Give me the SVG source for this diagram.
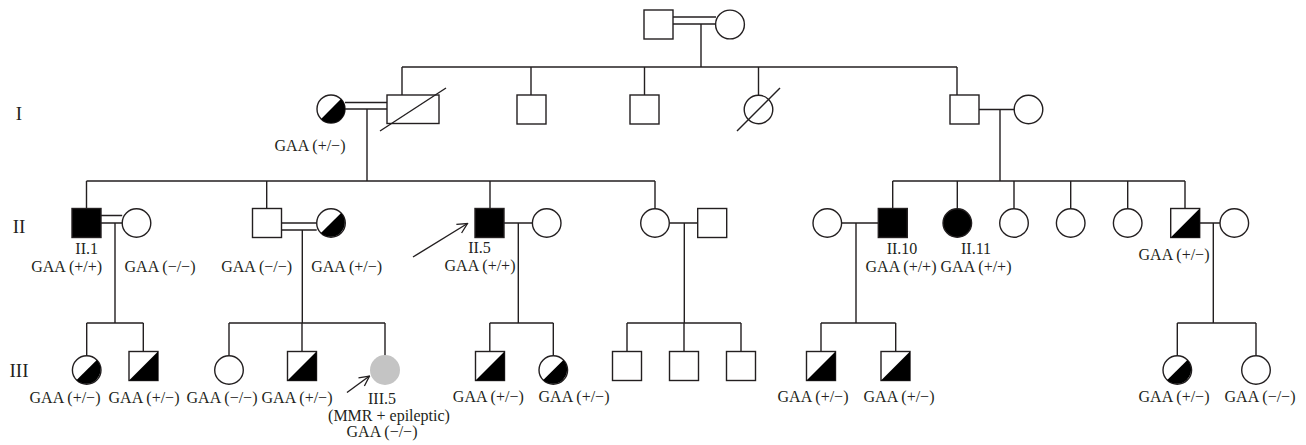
<svg xmlns="http://www.w3.org/2000/svg" width="1306" height="445" viewBox="0 0 1306 445">
<defs>
<style>
.ln{stroke:#231f20;stroke-width:1.4;fill:none}
.sh{stroke:#231f20;stroke-width:1.4;fill:#fff}
.fi{stroke:#231f20;stroke-width:1.4;fill:#000}
.bk{fill:#000;stroke:none}
.gr{fill:#c4c4c4;stroke:none}
.t{font-family:"Liberation Serif","Times New Roman",serif;font-size:16px;fill:#231f20;text-anchor:middle}
.g{font-family:"Liberation Serif","Times New Roman",serif;font-size:19px;fill:#231f20;text-anchor:middle}
</style>
<marker id="ah" viewBox="0 0 12 12" refX="11" refY="6" markerWidth="12" markerHeight="12" markerUnits="userSpaceOnUse" orient="auto">
<path d="M1,1 L11,6 L1,11" fill="none" stroke="#231f20" stroke-width="1.3"/>
</marker>
</defs>
<rect width="1306" height="445" fill="#fff"/>

<g id="generations">
<text class="g" x="19" y="120">I</text>
<text class="g" x="19" y="233">II</text>
<text class="g" x="19" y="377">III</text>
</g>

<g id="connectors">
<path class="ln" d="M673,17 H716 M673,24 H716 M701,24 V67"/>
<path class="ln" d="M402,67 H957"/>
<path class="ln" d="M402,67 V95 M531,67 V95 M644.5,67 V95 M758.5,67 V95.2 M957,67 V95"/>
<path class="ln" d="M345,102.5 H387 M345,109 H387 M367,109 V181"/>
<path class="ln" d="M979,109.5 H1014.2 M1000,109.5 V181"/>
<path class="ln" d="M86.5,181 H655 M86.5,181 V208.5 M266.7,181 V208.5 M490,181 V208.5 M655,181 V208.7"/>
<path class="ln" d="M892.7,181 H1185 M892.7,181 V208.5 M957.3,181 V208.7 M1014,181 V208.7 M1070.7,181 V208.7 M1127.7,181 V208.7 M1185,181 V208.5"/>
<path class="ln" d="M101,215.5 H122.2 M101,223 H122.2 M115,223 V323"/>
<path class="ln" d="M281.5,223 H316.7 M281.5,230 H316.7 M302.3,230 V323"/>
<path class="ln" d="M504,223 H532.4 M518.3,223 V323"/>
<path class="ln" d="M669.3,223 H697.7 M684.3,223 V323"/>
<path class="ln" d="M841.6,223 H878.3 M856,223 V323"/>
<path class="ln" d="M1199.5,223 H1220 M1213.3,223 V323"/>
<path class="ln" d="M86.7,323 H143.3 M86.7,323 V355.7 M143.3,323 V351.5"/>
<path class="ln" d="M229,323 H385 M229,323 V355.7 M302,323 V351.5 M385,323 V355.7"/>
<path class="ln" d="M489.8,323 H553.3 M489.8,323 V351.5 M553.3,323 V355.7"/>
<path class="ln" d="M627,323 H741 M627,323 V351.5 M684,323 V351.5 M741,323 V351.5"/>
<path class="ln" d="M821,323 H895.7 M821,323 V351.5 M895.7,323 V351.5"/>
<path class="ln" d="M1177.3,323 H1256 M1177.3,323 V355.7 M1256,323 V355.7"/>
<path class="ln" d="M413,257 L467.5,223.5" marker-end="url(#ah)"/>
<path class="ln" d="M347,392.5 L369.5,376" marker-end="url(#ah)"/>
</g>

<g id="I-father"><rect class="sh" x="644" y="10" width="29" height="29"/></g>
<g id="I-mother"><circle class="sh" cx="730" cy="24.5" r="14.4"/></g>

<g id="I-1-wife">
<circle class="sh" cx="331" cy="109" r="14"/>
<path class="bk" d="M321.1,118.9 A14,14 0 0 0 340.9,99.1 Z"/>
<text class="t" x="310" y="151">GAA (+/−)</text>
</g>
<g id="I-1">
<rect class="sh" x="387" y="95" width="52" height="28.5"/>
<path class="ln" d="M380,131 L446,88"/>
</g>
<g id="I-2"><rect class="sh" x="517" y="95" width="29" height="29"/></g>
<g id="I-3"><rect class="sh" x="630" y="95" width="29" height="29"/></g>
<g id="I-4">
<circle class="sh" cx="758.5" cy="109.5" r="14.3"/>
<path class="ln" d="M737,131 L780,88"/>
</g>
<g id="I-5"><rect class="sh" x="950" y="95" width="29" height="29"/></g>
<g id="I-5-wife"><circle class="sh" cx="1028.5" cy="109.5" r="14.3"/></g>

<g id="II-1">
<rect class="fi" x="72" y="208.5" width="29" height="29"/>
<text class="t" x="86.7" y="254">II.1</text>
<text class="t" x="66.7" y="271.5">GAA (+/+)</text>
</g>
<g id="II-1-wife">
<circle class="sh" cx="136.5" cy="223" r="14.3"/>
<text class="t" x="160" y="271.5">GAA (−/−)</text>
</g>
<g id="II-3">
<rect class="sh" x="252.5" y="208.5" width="29" height="29"/>
<text class="t" x="256.7" y="271.5">GAA (−/−)</text>
</g>
<g id="II-3-wife">
<circle class="sh" cx="331" cy="223" r="14.3"/>
<path class="bk" d="M320.9,233.1 A14.3,14.3 0 0 0 341.1,212.9 Z"/>
<text class="t" x="346.7" y="271.5">GAA (+/−)</text>
</g>
<g id="II-5">
<rect class="fi" x="475" y="208.5" width="29" height="29"/>
<text class="t" x="479.5" y="253">II.5</text>
<text class="t" x="480" y="270.5">GAA (+/+)</text>
</g>
<g id="II-5-wife"><circle class="sh" cx="546.7" cy="223" r="14.3"/></g>
<g id="II-7"><circle class="sh" cx="655" cy="223" r="14.3"/></g>
<g id="II-7-husband"><rect class="sh" x="697.7" y="208.5" width="29" height="29"/></g>
<g id="II-10-wife"><circle class="sh" cx="827.3" cy="223" r="14.3"/></g>
<g id="II-10">
<rect class="fi" x="878.3" y="208.5" width="29" height="29"/>
<text class="t" x="902" y="254">II.10</text>
<text class="t" x="901" y="271.5">GAA (+/+)</text>
</g>
<g id="II-11">
<circle class="fi" cx="957.3" cy="223" r="14.3"/>
<text class="t" x="976" y="254">II.11</text>
<text class="t" x="976" y="271.5">GAA (+/+)</text>
</g>
<g id="II-12"><circle class="sh" cx="1014" cy="223" r="14.3"/></g>
<g id="II-13"><circle class="sh" cx="1070.7" cy="223" r="14.3"/></g>
<g id="II-14"><circle class="sh" cx="1127.7" cy="223" r="14.3"/></g>
<g id="II-15">
<rect class="sh" x="1170.7" y="208.5" width="29" height="29"/>
<path class="bk" d="M1170.7,237.5 L1199.7,208.5 V237.5 Z"/>
<text class="t" x="1174" y="259.5">GAA (+/−)</text>
</g>
<g id="II-15-wife"><circle class="sh" cx="1234.3" cy="223" r="14.3"/></g>

<g id="III-1">
<circle class="sh" cx="86.7" cy="370" r="14.3"/>
<path class="bk" d="M76.6,380.1 A14.3,14.3 0 0 0 96.8,359.9 Z"/>
<text class="t" x="65" y="403">GAA (+/−)</text>
</g>
<g id="III-2">
<rect class="sh" x="129" y="351.5" width="29" height="29"/>
<path class="bk" d="M129,380.5 L158,351.5 V380.5 Z"/>
<text class="t" x="144" y="403">GAA (+/−)</text>
</g>
<g id="III-3">
<circle class="sh" cx="229" cy="370" r="14.3"/>
<text class="t" x="222" y="403">GAA (−/−)</text>
</g>
<g id="III-4">
<rect class="sh" x="287.5" y="351.5" width="29" height="29"/>
<path class="bk" d="M287.5,380.5 L316.5,351.5 V380.5 Z"/>
<text class="t" x="297" y="403">GAA (+/−)</text>
</g>
<g id="III-5">
<circle class="gr" cx="385" cy="370" r="15"/>
<text class="t" x="382" y="404">III.5</text>
<text class="t" x="389" y="420.5">(MMR + epileptic)</text>
<text class="t" x="382" y="437">GAA (−/−)</text>
</g>
<g id="III-6">
<rect class="sh" x="475.5" y="351.5" width="29" height="29"/>
<path class="bk" d="M475.5,380.5 L504.5,351.5 V380.5 Z"/>
<text class="t" x="488.3" y="402">GAA (+/−)</text>
</g>
<g id="III-7">
<circle class="sh" cx="553.3" cy="370" r="14.3"/>
<path class="bk" d="M543.2,380.1 A14.3,14.3 0 0 0 563.4,359.9 Z"/>
<text class="t" x="574" y="402">GAA (+/−)</text>
</g>
<g id="III-8"><rect class="sh" x="612.5" y="351.5" width="29" height="29"/></g>
<g id="III-9"><rect class="sh" x="669.5" y="351.5" width="29" height="29"/></g>
<g id="III-10"><rect class="sh" x="726.5" y="351.5" width="29" height="29"/></g>
<g id="III-11">
<rect class="sh" x="806.5" y="351.5" width="29" height="29"/>
<path class="bk" d="M806.5,380.5 L835.5,351.5 V380.5 Z"/>
<text class="t" x="813" y="402">GAA (+/−)</text>
</g>
<g id="III-12">
<rect class="sh" x="881" y="351.5" width="29" height="29"/>
<path class="bk" d="M881,380.5 L910,351.5 V380.5 Z"/>
<text class="t" x="899" y="402">GAA (+/−)</text>
</g>
<g id="III-13">
<circle class="sh" cx="1177.3" cy="370" r="14.3"/>
<path class="bk" d="M1167.2,380.1 A14.3,14.3 0 0 0 1187.4,359.9 Z"/>
<text class="t" x="1174" y="402">GAA (+/−)</text>
</g>
<g id="III-14">
<circle class="sh" cx="1256" cy="370" r="14.3"/>
<text class="t" x="1260" y="402">GAA (−/−)</text>
</g>
</svg>
